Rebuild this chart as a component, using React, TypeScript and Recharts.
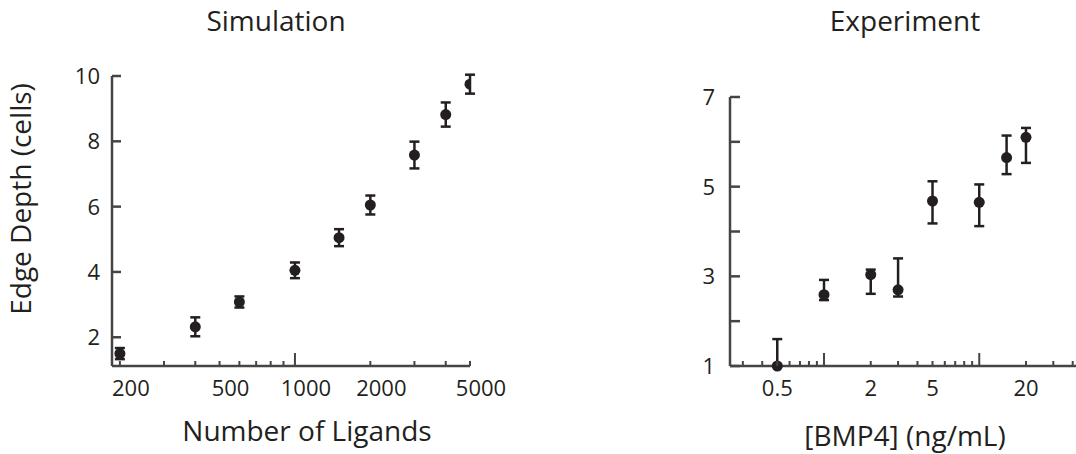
import { ScatterChart, Scatter, XAxis, YAxis, ErrorBar } from 'recharts'

// Simulation panel
const ligands = [200, 400, 600, 1000, 1500, 2000, 3000, 4000, 5000]
const simDepth = [1.5, 2.32, 3.08, 4.05, 5.05, 6.05, 7.58, 8.82, 9.75]
const simErr = [0.17, 0.29, 0.17, 0.24, 0.26, 0.29, 0.41, 0.37, 0.29]

const simXTicks = [200, 300, 400, 500, 600, 700, 800, 900, 1000, 2000, 3000, 4000, 5000]
const simXLabels = [200, 500, 1000, 2000, 5000]
const simXMajor = [1000]
const simYTicks = [2, 4, 6, 8, 10]

// Experiment panel
const bmp4 = [0.5, 1, 2, 3, 5, 10, 15, 20]
const expDepth = [1.0, 2.59, 3.04, 2.7, 4.68, 4.65, 5.65, 6.1]
const expErrLow = [0, 0.12, 0.43, 0.15, 0.5, 0.53, 0.37, 0.57]
const expErrHigh = [0.6, 0.33, 0.11, 0.7, 0.44, 0.4, 0.49, 0.21]

const expXTicks = [0.3, 0.4, 0.5, 0.6, 0.7, 0.8, 0.9, 1, 2, 3, 4, 5, 6, 7, 8, 9, 10, 20, 30, 40]
const expXLabels = [0.5, 2, 5, 20]
const expXMajor = [1, 10]
const expYTicks = [1, 2, 3, 4, 5, 6, 7]
const expYLabels = [1, 3, 5, 7]

const simData = ligands.map((x, i) => ({ x, y: simDepth[i], err: simErr[i] }))
const expData = bmp4.map((x, i) => ({ x, y: expDepth[i], err: [expErrLow[i], expErrHigh[i]] }))

const INK = '#231f20'
const AXIS = '#454545'
const FONT = '"Open Sans", sans-serif'

const makeXTick = (labels: number[], major: number[], dx: number) => (props: any) => {
  const { x, y, payload } = props
  const v = payload.value
  const len = major.includes(v) ? 13 : 5
  return (
    <g>
      <line x1={x} y1={y} x2={x} y2={y - len} stroke={AXIS} strokeWidth={2} />
      {labels.includes(v) && (
        <text x={x + dx} y={y + 30} textAnchor="middle" fill={INK} fontSize={22} fontFamily={FONT}>
          {v}
        </text>
      )}
    </g>
  )
}

const makeYTick = (labels: number[], gap: number, len: number) => (props: any) => {
  const { x, y, payload } = props
  const v = payload.value
  return (
    <g>
      <line x1={x} y1={y} x2={x + len} y2={y} stroke={AXIS} strokeWidth={2.5} />
      {labels.includes(v) && (
        <text x={x - gap} y={y + 8} textAnchor="end" fill={INK} fontSize={22} fontFamily={FONT}>
          {v}
        </text>
      )}
    </g>
  )
}

const dot = (p: any) => <circle cx={p.cx} cy={p.cy} r={5.5} fill={INK} />

export default function App() {
  return (
    <div style={{ position: 'absolute', left: 0, top: 0, width: 1076, height: 454, background: '#fff' }}>
      <div style={{ position: 'absolute', left: 0, top: 0 }}>
        <ScatterChart width={540} height={454} margin={{ top: 76, right: 70, bottom: 0, left: 0 }}>
          <XAxis
            dataKey="x"
            type="number"
            scale="log"
            domain={[186, 5000]}
            allowDataOverflow
            ticks={simXTicks}
            interval={0}
            height={88}
            tickSize={0}
            tickMargin={0}
            tickLine={false}
            axisLine={{ stroke: AXIS, strokeWidth: 2.5 }}
            tick={makeXTick(simXLabels, simXMajor, 11)}
          />
          <YAxis
            dataKey="y"
            type="number"
            domain={[1.12, 10]}
            allowDataOverflow
            ticks={simYTicks}
            interval={0}
            width={112}
            tickSize={0}
            tickMargin={0}
            tickLine={false}
            axisLine={{ stroke: AXIS, strokeWidth: 2.5 }}
            tick={makeYTick(simYTicks, 12, 9)}
          />
          <Scatter data={simData} shape={dot} isAnimationActive={false}>
            <ErrorBar dataKey="err" direction="y" width={5} strokeWidth={2.5} stroke={INK} isAnimationActive={false} />
          </Scatter>
        </ScatterChart>
      </div>
      <div style={{ position: 'absolute', left: 540, top: 0 }}>
        <ScatterChart width={536} height={454} margin={{ top: 97, right: 0, bottom: 0, left: 0 }}>
          <XAxis
            dataKey="x"
            type="number"
            scale="log"
            domain={[0.248, 42]}
            allowDataOverflow
            ticks={expXTicks}
            interval={0}
            height={88}
            tickSize={0}
            tickMargin={0}
            tickLine={false}
            axisLine={{ stroke: AXIS, strokeWidth: 2.5 }}
            tick={makeXTick(expXLabels, expXMajor, 0)}
          />
          <YAxis
            dataKey="y"
            type="number"
            domain={[1, 7]}
            ticks={expYTicks}
            interval={0}
            width={190}
            tickSize={0}
            tickMargin={0}
            tickLine={false}
            axisLine={{ stroke: AXIS, strokeWidth: 2.5 }}
            tick={makeYTick(expYLabels, 15, 10)}
          />
          <Scatter data={expData} shape={dot} isAnimationActive={false}>
            <ErrorBar dataKey="err" direction="y" width={5} strokeWidth={2.5} stroke={INK} isAnimationActive={false} />
          </Scatter>
        </ScatterChart>
      </div>
      <svg
        width={1076}
        height={454}
        style={{ position: 'absolute', left: 0, top: 0, pointerEvents: 'none' }}
        fontFamily={FONT}
        fill={INK}
        fontSize={28}
      >
        <text x={276} y={31} textAnchor="middle">Simulation</text>
        <text x={905} y={31} textAnchor="middle">Experiment</text>
        <text x={31} y={199} textAnchor="middle" transform="rotate(-90, 31, 199)">Edge Depth (cells)</text>
        <text x={307} y={441} textAnchor="middle">Number of Ligands</text>
        <text x={905} y={446} textAnchor="middle">[BMP4] (ng/mL)</text>
      </svg>
    </div>
  )
}
